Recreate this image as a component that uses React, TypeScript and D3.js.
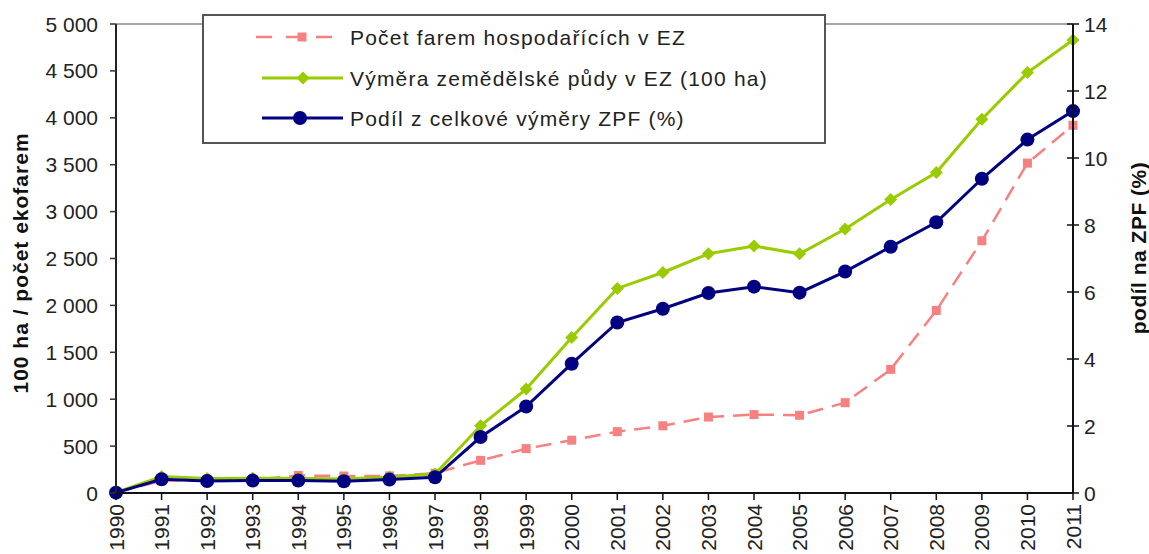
import React from "react";
import * as d3 from "d3";

const years = [1990, 1991, 1992, 1993, 1994, 1995, 1996, 1997, 1998, 1999, 2000, 2001, 2002, 2003, 2004, 2005, 2006, 2007, 2008, 2009, 2010, 2011];
const farms = [3, 132, 135, 141, 187, 181, 182, 211, 348, 473, 563, 654, 717, 810, 836, 829, 963, 1318, 1946, 2689, 3517, 3920];
const area = [5, 175, 154, 157, 158, 150, 170, 202, 716, 1108, 1657, 2181, 2351, 2550, 2633, 2550, 2815, 3129, 3416, 3984, 4482, 4829];
const share = [0.01, 0.41, 0.36, 0.37, 0.37, 0.35, 0.4, 0.47, 1.67, 2.58, 3.86, 5.09, 5.5, 5.97, 6.16, 5.98, 6.61, 7.35, 8.08, 9.38, 10.55, 11.4];
const leftTicks = [0, 500, 1000, 1500, 2000, 2500, 3000, 3500, 4000, 4500, 5000];
const rightTicks = [0, 2, 4, 6, 8, 10, 12, 14];
const legendLabels = ["Počet farem hospodařících v EZ", "Výměra zemědělské půdy v EZ (100 ha)", "Podíl z celkové výměry ZPF (%)"];

const RED = "#f78080";
const GREEN = "#99cc00";
const BLUE = "#000080";
const FONT = "'Liberation Sans', Arial, sans-serif";

export default function App() {
  const x0 = 116, x1 = 1073, yTop = 24, yBot = 493;
  const x = d3.scaleLinear().domain([1990, 2011]).range([x0, x1]);
  const yL = d3.scaleLinear().domain([0, 5000]).range([yBot, yTop]);
  const yR = d3.scaleLinear().domain([0, 14]).range([yBot, yTop]);
  const lineL = d3.line<number>().x((_, i) => x(years[i])).y((d) => yL(d));
  const lineR = d3.line<number>().x((_, i) => x(years[i])).y((d) => yR(d));
  const fmt = (v: number) => (v >= 1000 ? `${Math.floor(v / 1000)} ${String(v % 1000).padStart(3, "0")}` : String(v));

  const diamond = (cx: number, cy: number, r: number) => `M${cx},${cy - r}L${cx + r},${cy}L${cx},${cy + r}L${cx - r},${cy}Z`;

  return (
    <svg width={1149} height={554} style={{ position: "absolute", left: 0, top: 0, background: "#fff" }} fontFamily={FONT}>
      <rect width={1149} height={554} fill="#fff" />
      {/* plot top border */}
      <line x1={x0} x2={x1} y1={yTop} y2={yTop} stroke="#888" strokeWidth={1.5} />

      {/* red series */}
      <path d={lineL(farms) || ""} fill="none" stroke={RED} strokeWidth={2.5} strokeDasharray="16,9" />
      {farms.map((v, i) => (
        <rect key={"r" + i} x={x(years[i]) - 4.5} y={yL(v) - 4.5} width={9} height={9} fill={RED} />
      ))}
      {/* green series */}
      <path d={lineL(area) || ""} fill="none" stroke={GREEN} strokeWidth={3} />
      {area.map((v, i) => (
        <path key={"g" + i} d={diamond(x(years[i]), yL(v), 6.5)} fill={GREEN} />
      ))}
      {/* blue series */}
      <path d={lineR(share) || ""} fill="none" stroke={BLUE} strokeWidth={3} />
      {share.map((v, i) => (
        <circle key={"b" + i} cx={x(years[i])} cy={yR(v)} r={7} fill={BLUE} />
      ))}

      {/* axes */}
      <line x1={x0} x2={x0} y1={yTop} y2={yBot} stroke="#222" strokeWidth={2} />
      <line x1={x1} x2={x1} y1={yTop} y2={yBot} stroke="#111" strokeWidth={2} />
      <line x1={x0} x2={x1} y1={yBot} y2={yBot} stroke="#111" strokeWidth={2} />

      {leftTicks.map((t) => (
        <g key={"lt" + t}>
          <line x1={x0 - 6} x2={x0} y1={yL(t)} y2={yL(t)} stroke="#333" strokeWidth={1.5} />
          <text x={98} y={yL(t)} textAnchor="end" dominantBaseline="central" fontSize={21} fill="#222">
            {fmt(t)}
          </text>
        </g>
      ))}
      {rightTicks.map((t) => (
        <g key={"rt" + t}>
          <line x1={x1 - 6} x2={x1 + 6} y1={yR(t)} y2={yR(t)} stroke="#111" strokeWidth={1.5} />
          <text x={1084} y={yR(t)} textAnchor="start" dominantBaseline="central" fontSize={21} fill="#222">
            {t}
          </text>
        </g>
      ))}
      {years.map((yr) => (
        <g key={"xt" + yr}>
          <line x1={x(yr)} x2={x(yr)} y1={yBot} y2={yBot + 7} stroke="#111" strokeWidth={1.5} />
          <text
            transform={`translate(${x(yr)},${yBot + 11}) rotate(-90)`}
            textAnchor="end"
            dominantBaseline="central"
            fontSize={21}
            fill="#222"
          >
            {yr}
          </text>
        </g>
      ))}

      {/* axis titles */}
      <text transform="translate(20,263) rotate(-90)" textAnchor="middle" dominantBaseline="central" fontSize={21} fontWeight="bold" letterSpacing={1} fill="#111">
        100 ha / počet ekofarem
      </text>
      <text transform="translate(1138,248) rotate(-90)" textAnchor="middle" dominantBaseline="central" fontSize={21} fontWeight="bold" letterSpacing={0.5} fill="#111">
        podíl na ZPF (%)
      </text>

      {/* legend */}
      <rect x={203} y={15} width={622} height={128} fill="#fff" stroke="#555" strokeWidth={2} />
      {legendLabels.map((lab, i) => {
        const cy = [37, 78, 118][i];
        const col = [RED, GREEN, BLUE][i];
        return (
          <g key={"lg" + i}>
            {i === 0 ? (
              <>
                <line x1={256} x2={332} y1={cy} y2={cy} stroke={col} strokeWidth={2.5} strokeDasharray="16,14" />
                <rect x={297.5} y={cy - 4.5} width={9} height={9} fill={col} />
              </>
            ) : i === 1 ? (
              <>
                <line x1={262} x2={343} y1={cy} y2={cy} stroke={col} strokeWidth={3} />
                <path d={diamond(303, cy, 6.5)} fill={col} />
              </>
            ) : (
              <>
                <line x1={262} x2={343} y1={cy} y2={cy} stroke={col} strokeWidth={3} />
                <circle cx={300} cy={cy} r={7} fill={col} />
              </>
            )}
            <text x={350} y={cy} dominantBaseline="central" fontSize={21} letterSpacing={1.2} fill="#222">
              {lab}
            </text>
          </g>
        );
      })}
    </svg>
  );
}
